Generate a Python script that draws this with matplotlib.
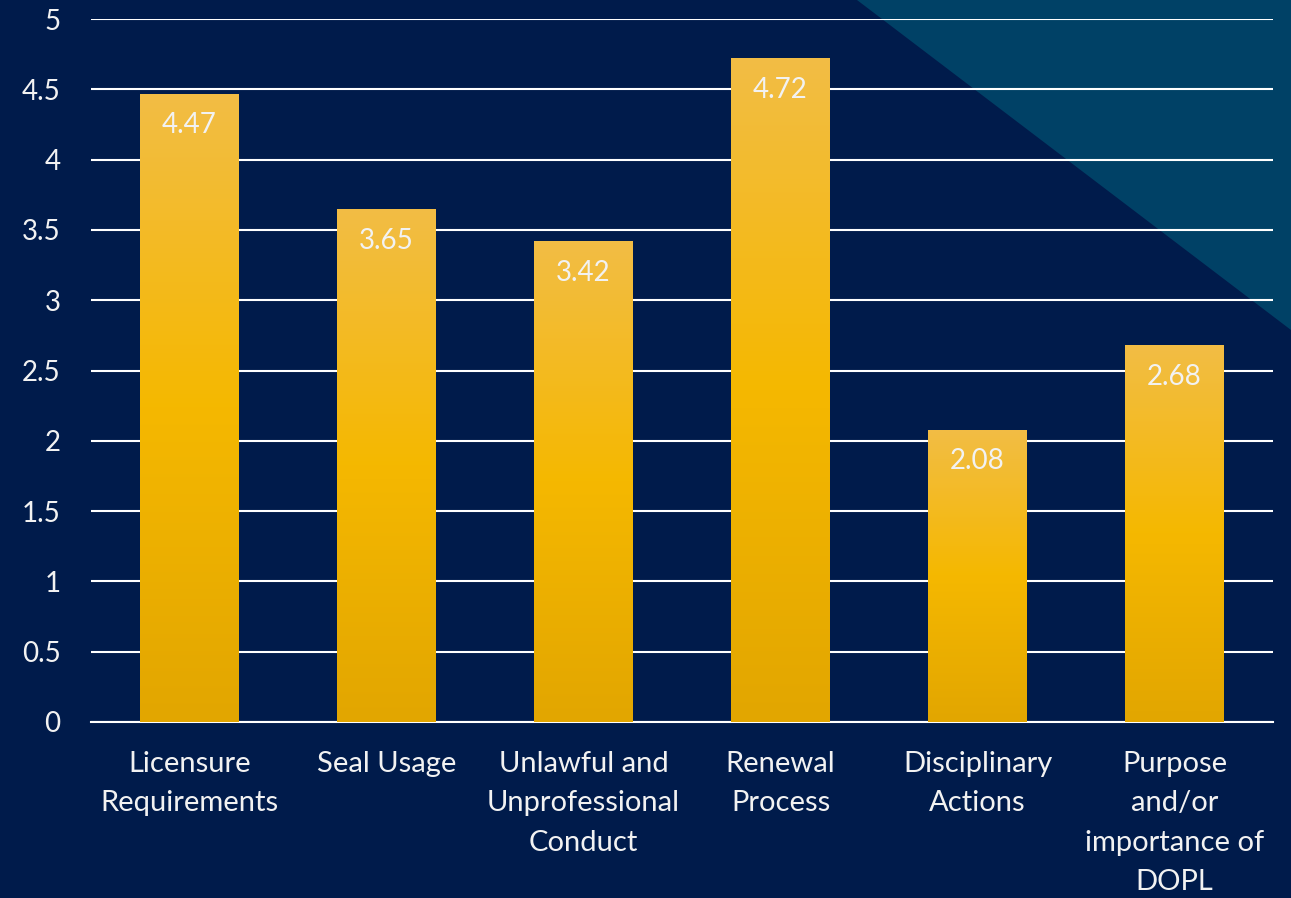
import numpy as np
import matplotlib as mpl
mpl.use('Agg')
import matplotlib.pyplot as plt
from matplotlib.colors import LinearSegmentedColormap
from matplotlib.patches import Polygon

categories = ['Licensure\nRequirements', 'Seal Usage', 'Unlawful and\nUnprofessional\nConduct',
              'Renewal\nProcess', 'Disciplinary\nActions', 'Purpose\nand/or\nimportance of\nDOPL']
scores = [4.47, 3.65, 3.42, 4.72, 2.08, 2.68]
yticks = [0, 0.5, 1, 1.5, 2, 2.5, 3, 3.5, 4, 4.5, 5]

navy = '#001B4B'
teal = '#004166'
text_col = '#F2F2F2'
fs = 20

plt.rcParams['font.family'] = ['Lato', 'DejaVu Sans']

fig = plt.figure(figsize=(12.91, 8.98), dpi=100, facecolor=navy)

# teal corner triangle behind everything
fig.patches.append(Polygon([[857 / 1291, 1], [1, 1], [1, 1 - 330 / 898]],
                           closed=True, transform=fig.transFigure,
                           facecolor=teal, edgecolor='none', zorder=-5))

ax = fig.add_axes([91 / 1291, 1 - 722 / 898, (1273 - 91) / 1291, (722 - 19) / 898])
ax.patch.set_alpha(0)

x = np.arange(len(scores))
bars = ax.bar(x, scores, width=0.5, color='none', zorder=3)

# vertical gold gradient, clipped to each bar
gold = LinearSegmentedColormap.from_list('gold', ['#E2A600', '#F5B800', '#F2BD45'])
grad = np.linspace(0, 1, 256).reshape(-1, 1)
for b, v in zip(bars, scores):
    x0 = b.get_x()
    im = ax.imshow(grad, cmap=gold, origin='lower', aspect='auto',
                   extent=[x0, x0 + b.get_width(), 0, v], zorder=3)
    im.set_clip_path(b)
    ax.annotate(f'{v:.2f}', (b.get_x() + b.get_width() / 2, v),
                xytext=(0, -23), textcoords='offset points',
                ha='center', va='center', color=text_col, fontsize=fs, zorder=4)

ax.set_xlim(-0.5, len(scores) - 0.5)
ax.set_ylim(0, 5)
ax.set_yticks(yticks)
ax.set_yticklabels([f'{t:g}' for t in yticks])
ax.yaxis.grid(True, color='white', linewidth=1.5, zorder=1)
ax.set_axisbelow(True)

ax.set_xticks(x)
ax.set_xticklabels(categories, linespacing=1.63)
ax.tick_params(axis='both', length=0, colors=text_col, labelsize=fs)
ax.tick_params(axis='x', labelsize=21, pad=21)
ax.tick_params(axis='y', pad=22)

for s in ['top', 'right', 'left']:
    ax.spines[s].set_visible(False)
ax.spines['bottom'].set_color('white')
ax.spines['bottom'].set_linewidth(1.5)

plt.savefig('out.png', dpi=100, facecolor=navy)
